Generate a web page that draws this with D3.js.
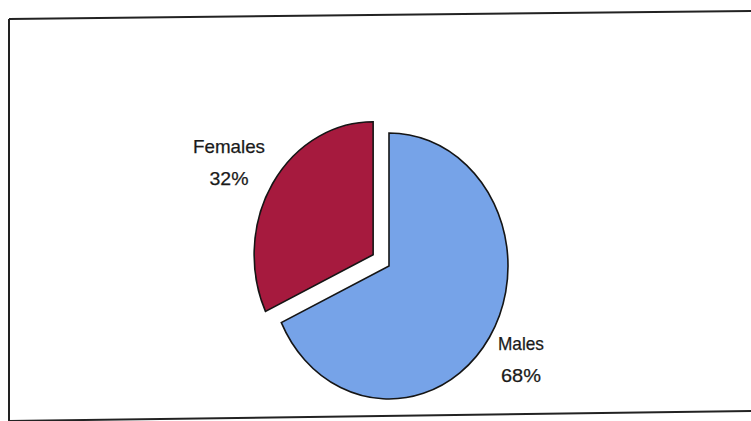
<!DOCTYPE html>
<html>
<head>
<meta charset="utf-8">
<script src="https://cdn.jsdelivr.net/npm/d3@7"></script>
<style>
  html, body { margin: 0; padding: 0; background: #fff; }
  svg { display: block; }
  text { font-family: "Liberation Sans", Arial, sans-serif; fill: #1a1a1a; stroke: #1a1a1a; stroke-width: 0.25; }
</style>
</head>
<body>
<svg id="chart" width="751" height="421"></svg>
<script>
// Gender split
const categories = ["Males", "Females"];
const values = [68, 32];
const labels = ["68%", "32%"];
const colors = ["#76a3e8", "#a61a3e"];

const W = 751, H = 421;
const svg = d3.select("#chart");

// Frame around the chart area
const frame = svg.append("g")
  .attr("stroke", "#222").attr("stroke-width", 2).attr("fill", "none");
frame.append("path").attr("d", d3.line()([[9, 19], [751, 11]]));
frame.append("path").attr("d", d3.line()([[9, 19], [9, 421]]));
frame.append("path").attr("d", d3.line()([[9, 421], [751, 411]]));

// Pie (drawn as a circle, stretched vertically into an ellipse)
const cx = 389, cy = 266, r = 133, sx = 119 / 133;
const explode = 21;

const pie = d3.pie().sort(null).value(d => d);
const arcs = pie(values);
const arc = d3.arc().innerRadius(0).outerRadius(r);

const g = svg.append("g")
  .attr("transform", `translate(${cx},${cy}) scale(${sx},1)`);

g.selectAll("path.slice")
  .data(arcs)
  .join("path")
  .attr("class", "slice")
  .attr("d", arc)
  .attr("fill", (d, i) => colors[i])
  .attr("stroke", "#151515")
  .attr("stroke-width", 1.6)
  .attr("stroke-linejoin", "miter")
  .style("vector-effect", "non-scaling-stroke")
  .attr("transform", (d, i) => {
    if (categories[i] !== "Females") return null;
    const mid = (d.startAngle + d.endAngle) / 2;
    return `translate(${Math.sin(mid) * explode},${-Math.cos(mid) * explode})`;
  });

// Category labels with percentages
const labelPos = { "Females": [229, 153], "Males": [521, 350] };
const labelWidth = { "Females": 72, "Males": 46 };
const pctWidth = { "Females": 39, "Males": 40 };

categories.forEach((c, i) => {
  const [x, y] = labelPos[c];
  svg.append("text")
    .attr("x", x).attr("y", y)
    .attr("text-anchor", "middle")
    .attr("font-size", 19)
    .attr("textLength", labelWidth[c])
    .attr("lengthAdjust", "spacingAndGlyphs")
    .text(c);
  svg.append("text")
    .attr("x", x).attr("y", y + 32)
    .attr("text-anchor", "middle")
    .attr("font-size", 19)
    .attr("textLength", pctWidth[c])
    .attr("lengthAdjust", "spacingAndGlyphs")
    .text(labels[i]);
});
</script>
</body>
</html>
